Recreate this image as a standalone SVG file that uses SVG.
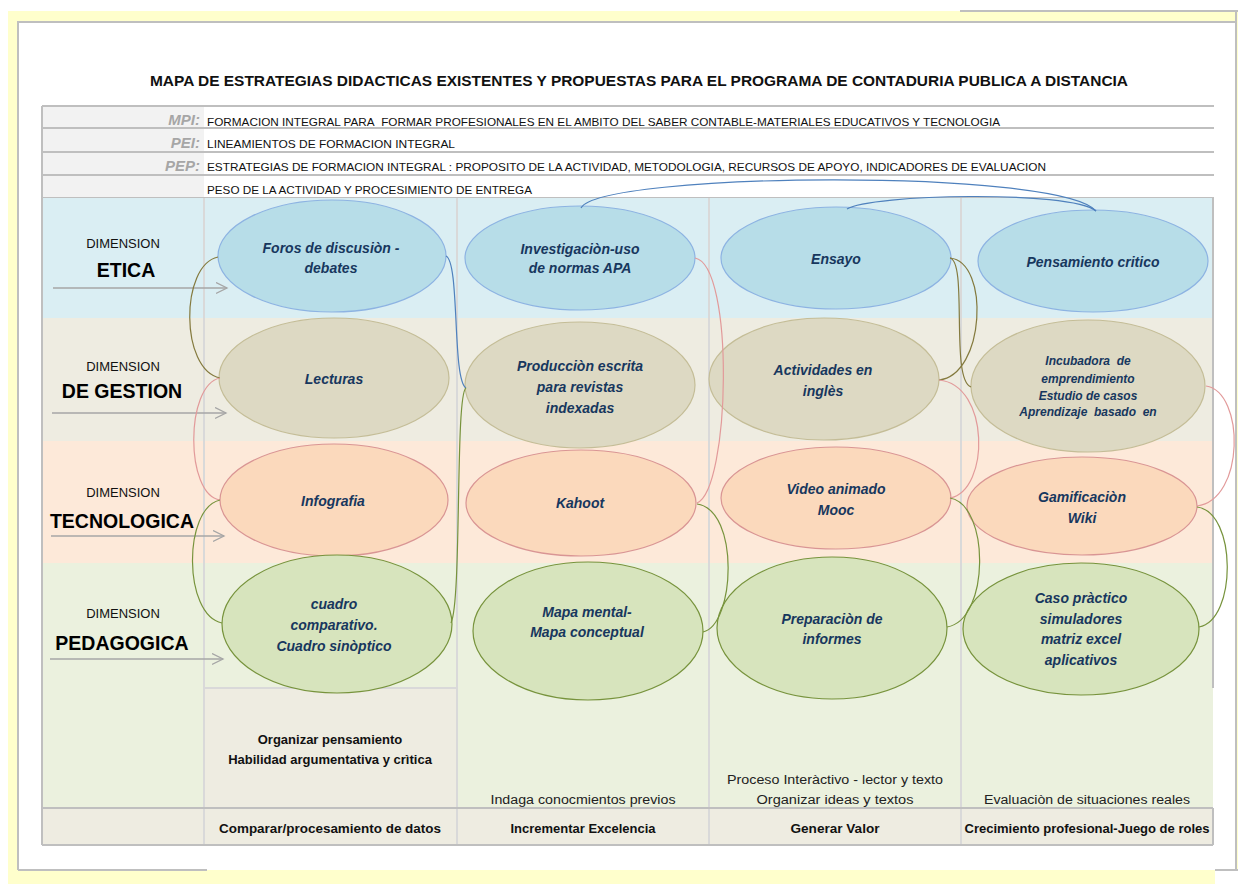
<svg xmlns="http://www.w3.org/2000/svg" width="1238" height="884" viewBox="0 0 1238 884">
<style>
text{font-family:"Liberation Sans",Arial,sans-serif}
.frame{stroke:#BFBFBF;stroke-width:2;fill:none}
.grid{stroke:#BFBFBF;stroke-width:2;fill:none}
.col{stroke:#D9D9D9;stroke-width:2;fill:none}
.hdr{font-size:11.5px;fill:#111}
.lab{font-size:15px;font-weight:bold;font-style:italic;fill:#A6A6A6;text-anchor:end}
.dim{font-size:13px;fill:#111;text-anchor:middle}
.dimB{font-size:19.5px;font-weight:bold;fill:#000;text-anchor:middle}
.nt{font-size:14px;font-weight:bold;font-style:italic;fill:#17375E;text-anchor:middle}
.nts{font-size:12px;font-weight:bold;font-style:italic;fill:#17375E;text-anchor:middle}
.eb{fill:#B7DDE8;stroke:#8DB3E2;stroke-width:1.2}
.eg{fill:#DDD9C3;stroke:#C4BD97;stroke-width:1.2}
.et{fill:#FBD9BC;stroke:#D99594;stroke-width:1.2}
.ep{fill:#D7E4BD;stroke:#77933C;stroke-width:1.2}
.bt{font-size:12px;font-weight:bold;fill:#111;text-anchor:middle}
.bt13{font-size:13px;font-weight:bold;fill:#111;text-anchor:middle}
.nr{font-size:12px;fill:#222;text-anchor:middle}
.arr{stroke:#A6A6A6;stroke-width:1.3;fill:none;marker-end:url(#chev)}
.c{fill:none;stroke-width:1.2}
.cb{stroke:#4F81BD}
.co{stroke:#847A3E}
.cp{stroke:#E29A9A}
.cg{stroke:#77933C}
</style>
<defs>
<marker id="chev" markerUnits="userSpaceOnUse" markerWidth="13" markerHeight="13" refX="11" refY="6" orient="auto">
<path d="M0,0.5 L11,6 L0,11.5" fill="none" stroke="#A6A6A6" stroke-width="1.3"/>
</marker>
</defs>

<g id="page">
<rect x="8" y="11" width="1230" height="873" fill="#FFFFCC"/>
<rect x="18" y="22" width="1219" height="848" fill="#FFFFFF"/>
<rect x="1215" y="870" width="23" height="14" fill="#FFFFFF"/>
<path class="frame" d="M18,870 V22 H1237 M18,870 H207 M960,11 H1238 M1236,11 V870 M1215,870 H1238"/>
</g>

<g id="title">
<text x="639" y="86" font-size="15" font-weight="bold" text-anchor="middle" textLength="978" lengthAdjust="spacingAndGlyphs" fill="#111">MAPA DE ESTRATEGIAS DIDACTICAS EXISTENTES Y PROPUESTAS PARA EL PROGRAMA DE CONTADURIA PUBLICA A DISTANCIA</text>
</g>

<g id="header">
<rect x="42" y="106" width="162" height="92" fill="#F2F2F2"/>
<path class="grid" d="M42,106 H1214 M42,128 H1214 M42,152 H1214 M42,175 H1214 M42,198 H1214"/>
<text class="lab" x="200" y="125">MPI:</text>
<text class="lab" x="200" y="148">PEI:</text>
<text class="lab" x="200" y="171">PEP:</text>
<text class="hdr" x="207" y="126" textLength="793" lengthAdjust="spacingAndGlyphs">FORMACION INTEGRAL PARA&#160; FORMAR PROFESIONALES EN EL AMBITO DEL SABER CONTABLE-MATERIALES EDUCATIVOS Y TECNOLOGIA</text>
<text class="hdr" x="207" y="148" textLength="248" lengthAdjust="spacingAndGlyphs">LINEAMIENTOS DE FORMACION INTEGRAL</text>
<text class="hdr" x="207" y="171" textLength="839" lengthAdjust="spacingAndGlyphs">ESTRATEGIAS DE FORMACION INTEGRAL : PROPOSITO DE LA ACTIVIDAD, METODOLOGIA, RECURSOS DE APOYO, INDICADORES DE EVALUACION</text>
<text class="hdr" x="207" y="194" textLength="325" lengthAdjust="spacingAndGlyphs">PESO DE LA ACTIVIDAD Y PROCESIMIENTO DE ENTREGA</text>
</g>

<g id="bands">
<rect x="42" y="198" width="1171" height="120" fill="#DAEEF3"/>
<rect x="42" y="318" width="1171" height="123" fill="#EEECE1"/>
<rect x="42" y="441" width="1171" height="122" fill="#FDE9D9"/>
<rect x="42" y="563" width="1171" height="245" fill="#EBF1DE"/>
<rect x="204" y="688" width="253" height="120" fill="#EEECE1"/>
<rect x="42" y="808" width="1171" height="37" fill="#EEECE1"/>
<path class="col" d="M204,198 V845 M457,198 V845 M709,198 V845 M961,198 V845 M204,688 H457"/>
<path class="grid" d="M42,106 V845 M1213,198 V688 M42,808 H1213 M42,845 H1213 M1213,808 V845"/>
</g>

<g id="dim-etica">
<text class="dim" x="123" y="248">DIMENSION</text>
<text class="dimB" x="126" y="277">ETICA</text>
<line class="arr" x1="53" y1="288" x2="227" y2="288"/>
</g>
<g id="dim-gestion">
<text class="dim" x="123" y="371">DIMENSION</text>
<text class="dimB" x="122" y="398">DE GESTION</text>
<line class="arr" x1="52" y1="413" x2="226" y2="413"/>
</g>
<g id="dim-tecnologica">
<text class="dim" x="123" y="497">DIMENSION</text>
<text class="dimB" x="122" y="528">TECNOLOGICA</text>
<line class="arr" x1="51" y1="536" x2="224" y2="536"/>
</g>
<g id="dim-pedagogica">
<text class="dim" x="123" y="618">DIMENSION</text>
<text class="dimB" x="122" y="650">PEDAGOGICA</text>
<line class="arr" x1="50" y1="659" x2="223" y2="659"/>
</g>

<g id="foros">
<ellipse class="eb" cx="332" cy="256" rx="114" ry="56"/>
<text class="nt" x="331" y="253">Foros de discusiòn -</text>
<text class="nt" x="331" y="273">debates</text>
</g>
<g id="investigacion">
<ellipse class="eb" cx="580" cy="258" rx="115" ry="52"/>
<text class="nt" x="580" y="254">Investigaciòn-uso</text>
<text class="nt" x="580" y="273">de normas APA</text>
</g>
<g id="ensayo">
<ellipse class="eb" cx="836" cy="258" rx="115" ry="51"/>
<text class="nt" x="836" y="264">Ensayo</text>
</g>
<g id="pensamiento">
<ellipse class="eb" cx="1093" cy="261" rx="115" ry="51"/>
<text class="nt" x="1093" y="267">Pensamiento critico</text>
</g>

<g id="lecturas">
<ellipse class="eg" cx="334" cy="378" rx="115" ry="60"/>
<text class="nt" x="334" y="384">Lecturas</text>
</g>
<g id="produccion">
<ellipse class="eg" cx="580" cy="385" rx="115" ry="63"/>
<text class="nt" x="580" y="371">Producciòn escrita</text>
<text class="nt" x="580" y="392">para revistas</text>
<text class="nt" x="580" y="413">indexadas</text>
</g>
<g id="actividades">
<ellipse class="eg" cx="824" cy="379" rx="115" ry="61"/>
<text class="nt" x="823" y="375">Actividades en</text>
<text class="nt" x="823" y="396">inglès</text>
</g>
<g id="incubadora">
<ellipse class="eg" cx="1088" cy="386" rx="117" ry="66"/>
<text class="nts" x="1088" y="365">Incubadora&#160; de</text>
<text class="nts" x="1088" y="383">emprendimiento</text>
<text class="nts" x="1088" y="400">Estudio de casos</text>
<text class="nts" x="1088" y="416">Aprendizaje&#160; basado&#160; en</text>
</g>

<g id="infografia">
<ellipse class="et" cx="334" cy="500" rx="114" ry="56"/>
<text class="nt" x="333" y="506">Infografia</text>
</g>
<g id="kahoot">
<ellipse class="et" cx="581" cy="503" rx="115" ry="53"/>
<text class="nt" x="580" y="508">Kahoot</text>
</g>
<g id="video">
<ellipse class="et" cx="836" cy="498" rx="115" ry="51"/>
<text class="nt" x="836" y="494">Video animado</text>
<text class="nt" x="836" y="515">Mooc</text>
</g>
<g id="gamificacion">
<ellipse class="et" cx="1082" cy="506" rx="115" ry="49"/>
<text class="nt" x="1082" y="502">Gamificaciòn</text>
<text class="nt" x="1082" y="523">Wiki</text>
</g>

<g id="cuadro">
<ellipse class="ep" cx="337" cy="624" rx="115" ry="69"/>
<text class="nt" x="334" y="609">cuadro</text>
<text class="nt" x="334" y="630">comparativo.</text>
<text class="nt" x="334" y="651">Cuadro sinòptico</text>
</g>
<g id="mapa">
<ellipse class="ep" cx="588" cy="631" rx="115" ry="69"/>
<text class="nt" x="587" y="617">Mapa mental-</text>
<text class="nt" x="587" y="637">Mapa conceptual</text>
</g>
<g id="preparacion">
<ellipse class="ep" cx="832" cy="628" rx="115" ry="71"/>
<text class="nt" x="832" y="624">Preparaciòn de</text>
<text class="nt" x="832" y="644">informes</text>
</g>
<g id="caso">
<ellipse class="ep" cx="1081" cy="629" rx="118" ry="66"/>
<text class="nt" x="1081" y="603">Caso pràctico</text>
<text class="nt" x="1081" y="624">simuladores</text>
<text class="nt" x="1081" y="644">matriz excel</text>
<text class="nt" x="1081" y="665">aplicativos</text>
</g>

<g id="notes">
<text class="bt13" x="330" y="744">Organizar pensamiento</text>
<text class="bt13" x="330" y="764">Habilidad argumentativa y crìtica</text>
<text class="nr" x="583" y="804" textLength="185" lengthAdjust="spacingAndGlyphs">Indaga conocmientos previos</text>
<text class="nr" x="835" y="784" textLength="216" lengthAdjust="spacingAndGlyphs">Proceso Interàctivo - lector y texto</text>
<text class="nr" x="835" y="804" textLength="157" lengthAdjust="spacingAndGlyphs">Organizar ideas y textos</text>
<text class="nr" x="1087" y="804" textLength="206" lengthAdjust="spacingAndGlyphs">Evaluaciòn de situaciones reales</text>
</g>

<g id="footer">
<text class="bt" x="330" y="833" textLength="222" lengthAdjust="spacingAndGlyphs">Comparar/procesamiento de datos</text>
<text class="bt" x="583" y="833" textLength="145" lengthAdjust="spacingAndGlyphs">Incrementar Excelencia</text>
<text class="bt" x="835" y="833" textLength="89" lengthAdjust="spacingAndGlyphs">Generar Valor</text>
<text class="bt" x="1087" y="833" textLength="245" lengthAdjust="spacingAndGlyphs">Crecimiento profesional-Juego de roles</text>
</g>

<g id="connectors">
<path class="c co" d="M218,257 C180,265 180,370 220,378"/>
<path class="c cb" d="M446,256 C460,262 452,380 466,388"/>
<path class="c cp" d="M220,378 C185,385 185,495 220,500"/>
<path class="c cg" d="M220,500 C183,508 183,615 222,623"/>
<path class="c cg" d="M451,623 C462,600 455,395 466,388"/>
<path class="c cp" d="M695,258 C735,265 730,490 697,503"/>
<path class="c cg" d="M697,504 C740,510 735,625 703,632"/>
<path class="c co" d="M950,258 C990,262 985,375 939,380"/>
<path class="c co" d="M950,258 C968,262 950,380 971,387"/>
<path class="c cp" d="M939,380 C990,385 990,490 950,498"/>
<path class="c cg" d="M950,498 C990,505 990,620 947,627"/>
<path class="c cp" d="M1206,386 C1245,392 1245,500 1197,506"/>
<path class="c cg" d="M1197,507 C1237,512 1237,620 1199,627"/>
<path class="c cb" d="M581,208 C600,172 1060,168 1096,211"/>
<path class="c cb" d="M847,209 C870,194 1070,190 1096,211"/>
</g>
</svg>
